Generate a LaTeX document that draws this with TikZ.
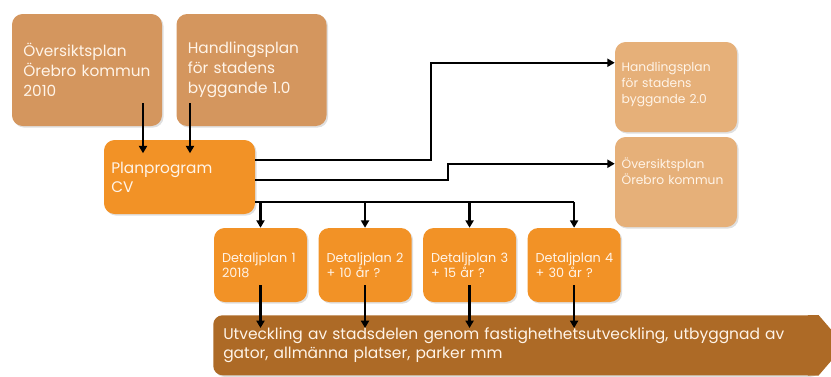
\documentclass[tikz,border=0pt]{standalone}
\usepackage{fontspec}
\setmainfont{Poppins}
\usepackage{tikz}
\usetikzlibrary{arrows.meta,positioning,calc,shadows}
\definecolor{ink}{RGB}{0,0,0}
\definecolor{tan}{RGB}{212,150,94}
\definecolor{sand}{RGB}{230,176,121}
\definecolor{orng}{RGB}{242,146,38}
\definecolor{rust}{RGB}{173,106,38}
\definecolor{cream}{RGB}{255,244,232}
\hyphenpenalty=10000
\tikzset{
  card/.style={rounded corners=8pt,inner ysep=3pt,align=left,text=cream,
    drop shadow={opacity=0.25,shadow xshift=1.2pt,shadow yshift=-1.2pt}},
  src/.style={card,fill=tan,minimum width=112.5pt,minimum height=84pt,inner xsep=8.5pt,
    text width=95.5pt,font=\fontsize{11.5}{15}\selectfont},
  nxt/.style={card,fill=sand,minimum width=91.5pt,minimum height=67.5pt,inner xsep=5pt,
    text width=81.5pt,font=\fontsize{9.2}{12}\selectfont},
  prog/.style={card,fill=orng,minimum width=113.25pt,minimum height=55.5pt,inner xsep=5.5pt,
    text width=102.25pt,font=\fontsize{11.5}{14.25}\selectfont},
  dp/.style={card,fill=orng,minimum width=69.75pt,minimum height=55.5pt,inner xsep=6pt,
    text width=57.75pt,font=\fontsize{9.6}{11.25}\selectfont},
  devbar/.style={rounded corners=7pt,fill=rust,align=left,text=cream,inner xsep=7.5pt,
    minimum width=453.75pt,minimum height=45pt,text width=438.75pt,
    font=\fontsize{11.6}{14.25}\selectfont,
    drop shadow={opacity=0.25,shadow xshift=1.2pt,shadow yshift=-1.2pt}},
  link/.style={line width=1.7pt,ink},
  arr/.style={link,-{Triangle[length=5.5pt,width=6pt]}},
}

\begin{document}
\begin{tikzpicture}[x=0.75pt,y=-0.75pt,node distance=8.25pt]
\useasboundingbox (0,0) rectangle (831,376);
\node[src] (op) at (87,70) {Översiktsplan\\Örebro kommun\\2010};
\node[src] (hp) at (251.5,70) {Handlingsplan\\för stadens\\byggande 1.0};
\node[prog] (pp) at (179.5,177) {Planprogram\\CV};
\node[nxt,text depth=31pt] (hp2) at (676,87) {Handlingsplan\\för stadens\\byggande 2.0};
\node[nxt,text depth=28pt] (op2) at (676,182) {Översiktsplan\\Örebro~kommun};
\node[dp] (d1) at (260.5,265) {Detaljplan~1\\2018};
\node[dp,right=of d1] (d2) {Detaljplan~2\\+ 10 år ?};
\node[dp,right=of d2] (d3) {Detaljplan~3\\+ 15 år ?};
\node[dp,right=of d3] (d4) {Detaljplan~4\\+ 30 år ?};
\node[devbar,anchor=north west] (dev) at (213,315)
  {Utveckling av stadsdelen genom fastighethetsutveckling, utbyggnad av\\gator, allmänna platser, parker mm};
\fill[rust] ([xshift=-8pt]dev.north east) -- (dev.north east) -- ($(dev.east)+(26,0)$)
  -- (dev.south east) -- ([xshift=-8pt]dev.south east) -- cycle;
\draw[arr] ($(op.south)+(56,-23)$) -- ++(0,50);
\draw[arr] ($(hp.south)+(-61.5,-23)$) -- ++(0,50);
\draw[arr] ($(pp.east)+(0,-17)$) -- ++(176,0) |- ($(hp2.north west)+(0,21)$);
\draw[arr] ($(pp.east)+(0,3)$) -- ++(193,0) |- ($(op2.north west)+(0,27)$);
\coordinate (split) at ($(pp.east)+(0,25)$);
\draw[link] (split) -- (split -| d4.north);
\foreach \d in {d1,d2,d3,d4}{
  \draw[arr] (split -| \d.north) -- (\d.north);
  \draw[arr] ($(\d.center)+(0,20)$) -- ($(\d.center |- dev.north)+(0,13)$);
}
\end{tikzpicture}
\end{document}
